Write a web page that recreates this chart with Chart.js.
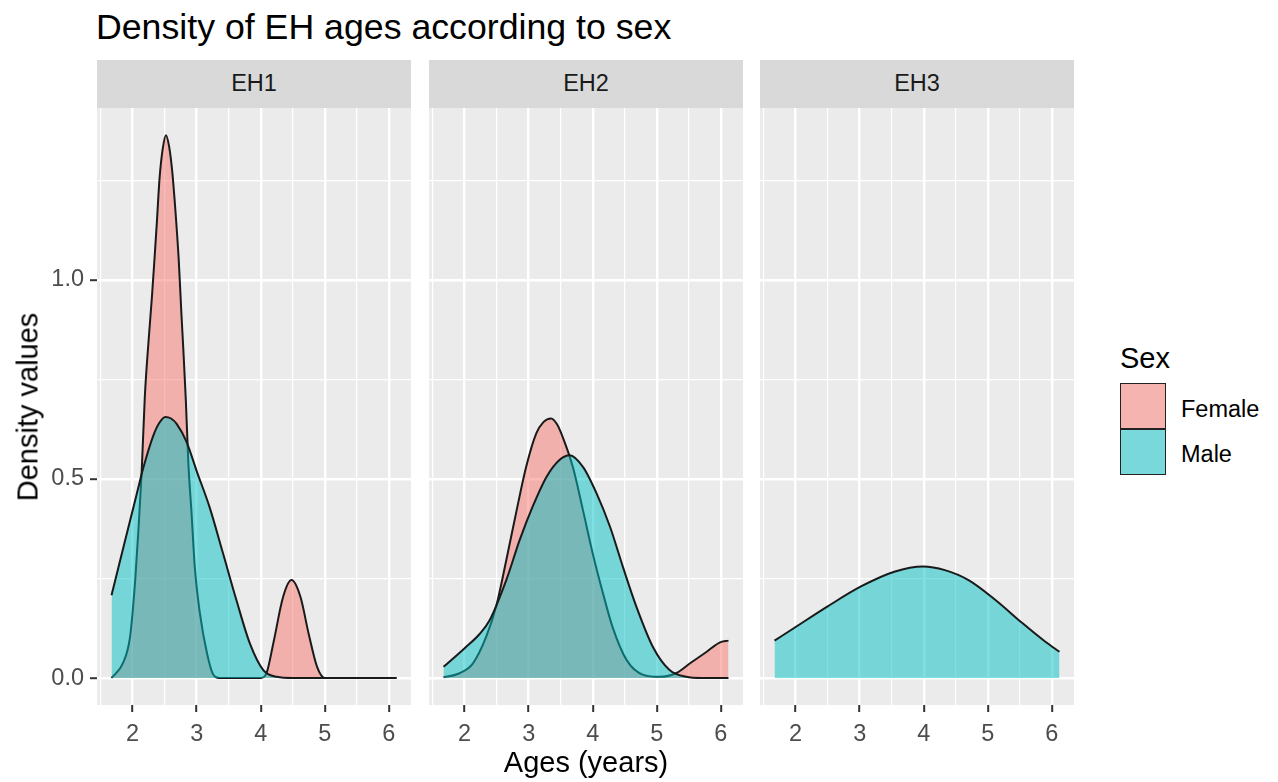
<!DOCTYPE html>
<html><head><meta charset="utf-8">
<script src="https://cdn.jsdelivr.net/npm/chart.js@4.4.1/dist/chart.umd.min.js"></script>
<style>
body{margin:0;background:#fff;font-family:"Liberation Sans",Arial,sans-serif;}
#wrap{position:relative;width:1278px;height:782px;overflow:hidden;background:#fff;}
.t{position:absolute;white-space:nowrap;line-height:1;}
canvas{position:absolute;}
.strip{position:absolute;top:60px;height:48px;background:#d9d9d9;color:#1a1a1a;font-size:23.5px;line-height:1;display:flex;align-items:center;justify-content:center;}
.key{position:absolute;left:1120px;width:46px;height:46px;box-sizing:border-box;border:1.5px solid #222;}
</style></head><body>
<div id="wrap">
  <div class="t" style="left:96px;top:10px;font-size:35.7px;color:#000">Density of EH ages according to sex</div>
  <div class="strip" style="left:97px;width:314px">EH1</div>
  <div class="strip" style="left:429px;width:314px">EH2</div>
  <div class="strip" style="left:760px;width:314px">EH3</div>
  <canvas id="c1" width="371" height="657" style="left:40px;top:108px"></canvas>
  <canvas id="c2" width="314" height="657" style="left:429px;top:108px"></canvas>
  <canvas id="c3" width="314" height="657" style="left:760px;top:108px"></canvas>
  <div class="t" style="left:586px;top:747.5px;font-size:29px;color:#000;transform:translateX(-50%)">Ages (years)</div>
  <div class="t" style="left:28px;top:406.5px;font-size:29px;color:#000;transform:translate(-50%,-50%) rotate(-90deg)">Density values</div>
  <div class="t" style="left:1120px;top:343.5px;font-size:29px;color:#000">Sex</div>
  <div class="key" style="top:383px;background:linear-gradient(rgba(248,118,109,0.5),rgba(248,118,109,0.5)),#f2f2f2"></div>
  <div class="key" style="top:429px;background:linear-gradient(rgba(0,191,196,0.5),rgba(0,191,196,0.5)),#f2f2f2"></div>
  <div class="t" style="left:1181px;top:398px;font-size:23.5px;color:#000">Female</div>
  <div class="t" style="left:1181px;top:443px;font-size:23.5px;color:#000">Male</div>
</div>
<script>
// ---- data ----
const facets = ['EH1', 'EH2', 'EH3'];
const sexes = ['Female', 'Male'];

const eh1FemaleX = [1.67, 1.85, 1.96, 2.04, 2.09, 2.14, 2.19, 2.25, 2.30, 2.34, 2.38, 2.42, 2.47, 2.52, 2.57, 2.62, 2.67, 2.72, 2.76, 2.79, 2.83, 2.87, 2.92, 2.97, 3.05, 3.16, 3.26, 3.35, 4.00, 4.09, 4.20, 4.35, 4.48, 4.62, 4.75, 4.88, 5.00, 6.12];
const eh1FemaleY = [0.000, 0.038, 0.104, 0.246, 0.372, 0.515, 0.706, 0.850, 0.955, 1.050, 1.150, 1.255, 1.330, 1.364, 1.335, 1.270, 1.170, 1.050, 0.920, 0.830, 0.700, 0.540, 0.414, 0.280, 0.163, 0.063, 0.008, 0.000, 0.000, 0.012, 0.090, 0.204, 0.246, 0.204, 0.110, 0.028, 0.000, 0.000];

const eh1MaleX = [1.67, 1.85, 2.06, 2.17, 2.32, 2.42, 2.51, 2.60, 2.69, 2.84, 3.00, 3.20, 3.41, 3.62, 3.83, 4.04, 4.25, 4.50, 6.12];
const eh1MaleY = [0.208, 0.325, 0.460, 0.530, 0.608, 0.642, 0.656, 0.652, 0.638, 0.594, 0.520, 0.430, 0.314, 0.196, 0.087, 0.020, 0.003, 0.000, 0.000];

const eh2FemaleX = [1.67, 1.92, 2.13, 2.34, 2.50, 2.65, 2.81, 2.96, 3.12, 3.23, 3.35, 3.44, 3.53, 3.69, 3.85, 4.00, 4.16, 4.31, 4.53, 4.79, 5.05, 5.30, 5.52, 5.78, 5.98, 6.12];
const eh2FemaleY = [0.002, 0.012, 0.037, 0.105, 0.185, 0.296, 0.420, 0.530, 0.615, 0.643, 0.652, 0.638, 0.606, 0.530, 0.420, 0.313, 0.213, 0.128, 0.045, 0.008, 0.003, 0.012, 0.037, 0.066, 0.089, 0.094];

const eh2MaleX = [1.67, 2.00, 2.23, 2.39, 2.65, 2.86, 3.06, 3.28, 3.48, 3.64, 3.85, 4.06, 4.27, 4.47, 4.68, 4.94, 5.20, 5.46, 5.70, 6.12];
const eh2MaleY = [0.028, 0.075, 0.110, 0.145, 0.246, 0.347, 0.430, 0.506, 0.548, 0.560, 0.530, 0.464, 0.380, 0.280, 0.180, 0.078, 0.020, 0.003, 0.000, 0.000];

const eh3MaleX = [1.67, 1.97, 2.50, 3.02, 3.54, 3.99, 4.33, 4.70, 5.12, 5.54, 5.90, 6.12];
const eh3MaleY = [0.094, 0.125, 0.180, 0.230, 0.267, 0.280, 0.271, 0.246, 0.196, 0.138, 0.091, 0.066];

// ---- ticks ----
const xMajorTicks = [2, 3, 4, 5, 6];
const xMajorLabels = ['2', '3', '4', '5', '6'];
const xMinorTicks = [1.5, 2.5, 3.5, 4.5, 5.5];
const yMajorTicks = [0, 0.5, 1.0];
const yMajorLabels = ['0.0', '0.5', '1.0'];
const yMinorTicks = [0.25, 0.75, 1.25];
const xLimits = [1.4435, 6.3465];
const yLimits = [-0.0678, 1.4322];

// ---- styling ----
const femaleFill = 'rgba(248,118,109,0.5)';
const maleFill = 'rgba(0,191,196,0.5)';
Chart.defaults.font.family = '"Liberation Sans", Arial, sans-serif';

const pts = (xs, ys) => xs.map((x, i) => ({x: x, y: ys[i]}));
const isIn = (arr, v) => arr.some(a => Math.abs(a - v) < 1e-9);

const bgPlugin = {
  id: 'panelBg',
  beforeDraw(chart) {
    const a = chart.chartArea, c = chart.ctx;
    c.save(); c.fillStyle = '#ebebeb';
    c.fillRect(a.left, a.top, a.right - a.left, a.bottom - a.top);
    c.restore();
  }
};

function series(label, xs, ys, fill, order) {
  return {
    label: label, data: pts(xs, ys), fill: 'origin', backgroundColor: fill,
    borderColor: '#1a1a1a', borderWidth: 2, pointRadius: 0,
    cubicInterpolationMode: 'monotone', order: order
  };
}

function makePanel(id, datasets, showY) {
  const xTicks = xMinorTicks.concat(xMajorTicks).sort((a, b) => a - b);
  const yTicks = yMinorTicks.concat(yMajorTicks).sort((a, b) => a - b);
  return new Chart(document.getElementById(id), {
    type: 'line',
    data: {datasets: datasets},
    options: {
      responsive: false, animation: false, devicePixelRatio: 1,
      layout: {padding: 0, autoPadding: false},
      plugins: {legend: {display: false}, tooltip: {enabled: false}},
      scales: {
        x: {
          type: 'linear', min: xLimits[0], max: xLimits[1], bounds: 'data',
          afterBuildTicks: s => { s.ticks = xTicks.map(v => ({value: v})); },
          afterFit: s => { s.height = 60; s.paddingLeft = 0; s.paddingRight = 0; },
          border: {display: false},
          grid: {
            color: '#ffffff',
            lineWidth: c => (c.tick && isIn(xMajorTicks, c.tick.value)) ? 2.4 : 1.2,
            tickColor: c => (c.tick && isIn(xMajorTicks, c.tick.value)) ? '#333333' : 'rgba(0,0,0,0)',
            tickLength: 7, tickWidth: 2
          },
          ticks: {
            autoSkip: false, maxRotation: 0, minRotation: 0, padding: 8,
            color: '#4d4d4d', font: {size: 23.5},
            callback: v => { const i = xMajorTicks.findIndex(a => Math.abs(a - v) < 1e-9); return i >= 0 ? xMajorLabels[i] : ''; }
          }
        },
        y: {
          type: 'linear', min: yLimits[0], max: yLimits[1], bounds: 'data',
          afterBuildTicks: s => { s.ticks = yTicks.map(v => ({value: v})); },
          afterFit: s => { s.width = showY ? 57 : 0; s.paddingTop = 0; s.paddingBottom = 0; },
          border: {display: false},
          grid: {
            color: '#ffffff',
            lineWidth: c => (c.tick && isIn(yMajorTicks, c.tick.value)) ? 2.4 : 1.2,
            tickColor: c => (c.tick && isIn(yMajorTicks, c.tick.value)) ? '#333333' : 'rgba(0,0,0,0)',
            drawTicks: showY, tickLength: 7, tickWidth: 2
          },
          ticks: {
            display: showY, autoSkip: false, padding: 6,
            color: '#4d4d4d', font: {size: 23.5},
            callback: v => { const i = yMajorTicks.findIndex(a => Math.abs(a - v) < 1e-9); return i >= 0 ? yMajorLabels[i] : ''; }
          }
        }
      }
    },
    plugins: [bgPlugin]
  });
}

makePanel('c1', [
  series(sexes[0], eh1FemaleX, eh1FemaleY, femaleFill, 2),
  series(sexes[1], eh1MaleX, eh1MaleY, maleFill, 1)
], true);
makePanel('c2', [
  series(sexes[0], eh2FemaleX, eh2FemaleY, femaleFill, 2),
  series(sexes[1], eh2MaleX, eh2MaleY, maleFill, 1)
], false);
makePanel('c3', [
  series(sexes[1], eh3MaleX, eh3MaleY, maleFill, 1)
], false);
</script>
</body></html>
